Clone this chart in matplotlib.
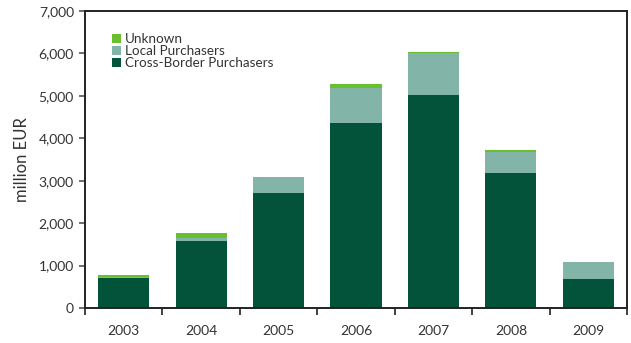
import matplotlib
matplotlib.use("Agg")
import matplotlib.pyplot as plt
import numpy as np

years = ["2003", "2004", "2005", "2006", "2007", "2008", "2009"]
cross_border = [700, 1590, 2720, 4370, 5030, 3190, 690]
local = [35, 65, 375, 820, 970, 495, 400]
unknown = [35, 120, 0, 100, 40, 45, 0]

c_cross = "#03533a"
c_local = "#82b5a7"
c_unknown = "#6abf2e"

plt.rcParams['font.family'] = ['Lato', 'DejaVu Sans']

fig = plt.figure(figsize=(6.31, 3.43), dpi=100)
ax = fig.add_axes([0.1347, 0.102, 0.859, 0.866])

x = np.arange(len(years))
w = 0.66
cb = np.array(cross_border)
lo = np.array(local)
un = np.array(unknown)
b1 = ax.bar(x, cb, w, color=c_cross, label="Cross-Border Purchasers", zorder=2)
b2 = ax.bar(x, lo, w, bottom=cb, color=c_local, label="Local Purchasers", zorder=2)
b3 = ax.bar(x, un, w, bottom=cb + lo, color=c_unknown, label="Unknown", zorder=2)

ax.set_xlim(-0.5, len(years) - 0.5)
ax.set_ylim(0, 7000)
ax.set_yticks(np.arange(0, 7001, 1000))
ax.set_yticklabels([f"{v:,}" for v in range(0, 7001, 1000)], fontsize=10, color="#333333")
ax.set_xticks(np.arange(-0.5, len(years), 1.0))
ax.set_xticklabels([])
ax.set_xticks(x, minor=True)
ax.set_xticklabels(years, minor=True, fontsize=10, color="#333333")
ax.tick_params(axis='x', which='major', length=5, width=1.2, direction='out', color="#222222")
ax.tick_params(axis='x', which='minor', length=0, pad=12)
ax.tick_params(axis='y', length=4, width=1.2, direction='out', color="#555555", pad=4)

for s in ax.spines.values():
    s.set_linewidth(1.4)
    s.set_color("#222222")

ax.set_ylabel("million EUR", fontsize=12, color="#333333", labelpad=6)

ax.legend(handles=[b3, b2, b1], loc="upper left", bbox_to_anchor=(0.05, 0.925),
          frameon=False, fontsize=9.7, handlelength=0.68, handleheight=0.68,
          handletextpad=0.3, labelspacing=0.0, borderaxespad=0.0, borderpad=0.0)
for t in ax.get_legend().get_texts():
    t.set_color("#333333")

fig.savefig("out.png", dpi=100)
